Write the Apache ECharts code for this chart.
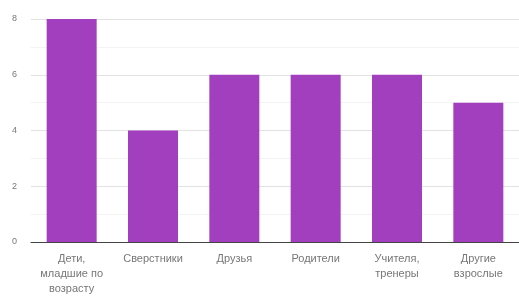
<!DOCTYPE html>
<html><head><meta charset="utf-8">
<script src="https://cdn.jsdelivr.net/npm/echarts@6/dist/echarts.min.js"></script>
<style>html,body{margin:0;padding:0;background:#fff}#c{width:519px;height:296px}</style>
</head><body><div id="c"></div>
<script>
const categories = ["Дети,\nмладшие по\nвозрасту", "Сверстники", "Друзья", "Родители", "Учителя,\nтренеры", "Другие\nвзрослые"];
const values = [8, 4, 6, 6, 6, 5];
const yTicks = [0, 2, 4, 6, 8];

const chart = echarts.init(document.getElementById('c'), null, {renderer: 'canvas'});
chart.setOption({
  animation: false,
  grid: {left: 31, right: -4, top: 19, bottom: 51, containLabel: false},
  xAxis: {
    type: 'category', data: categories,
    axisLine: {lineStyle: {color: '#444', width: 1}},
    axisTick: {show: false},
    axisLabel: {color: '#777', fontSize: 11, fontFamily: 'Arial, Liberation Sans', lineHeight: 15, margin: 9, interval: 0}
  },
  yAxis: {
    type: 'value', min: yTicks[0], max: yTicks[yTicks.length - 1], interval: 2,
    axisLine: {show: false}, axisTick: {show: false},
    axisLabel: {color: '#777', fontSize: 9, fontFamily: 'Arial, Liberation Sans', margin: 14},
    splitLine: {lineStyle: {color: '#e2e2e2'}},
    minorTick: {show: false, splitNumber: 2},
    minorSplitLine: {show: true, lineStyle: {color: '#f3f3f3'}}
  },
  series: [{
    type: 'bar', data: values, barWidth: 50,
    itemStyle: {color: '#a23fbf'}
  }]
});
</script></body></html>
